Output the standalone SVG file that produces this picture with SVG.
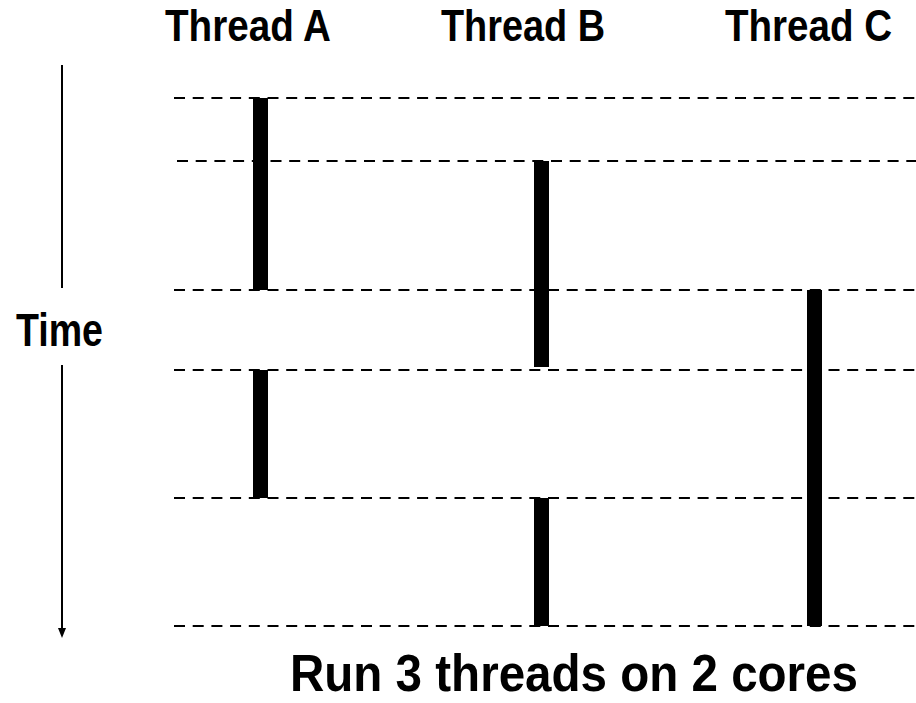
<svg xmlns="http://www.w3.org/2000/svg" width="916" height="703" viewBox="0 0 916 703">
<style>
.lbl{font-family:"Liberation Sans",Arial,sans-serif;font-weight:bold;fill:#000}
.dash{stroke:#000;stroke-width:2;stroke-dasharray:11 7.7;fill:none}
.bar{fill:#000}
.axis{stroke:#000;stroke-width:2;fill:none}
</style>
<rect width="916" height="703" fill="#fff"/>
<g id="labels">
<text class="lbl" x="165" y="41" font-size="44" textLength="166" lengthAdjust="spacingAndGlyphs">Thread A</text>
<text class="lbl" x="441" y="41" font-size="44" textLength="164" lengthAdjust="spacingAndGlyphs">Thread B</text>
<text class="lbl" x="725" y="41" font-size="44" textLength="167" lengthAdjust="spacingAndGlyphs">Thread C</text>
<text class="lbl" x="16" y="346" font-size="46" textLength="87" lengthAdjust="spacingAndGlyphs">Time</text>
<text class="lbl" x="290" y="691" font-size="52" textLength="568" lengthAdjust="spacingAndGlyphs">Run 3 threads on 2 cores</text>
</g>
<g id="time-axis">
<line class="axis" x1="62" y1="65" x2="62" y2="288"/>
<line class="axis" x1="62" y1="365" x2="62" y2="630"/>
<polygon points="58,628 66,628 62,638" fill="#000"/>
</g>
<g id="connectors">
<line class="dash" x1="174" y1="98" x2="916" y2="98"/>
<line class="dash" x1="177" y1="161" x2="916" y2="161"/>
<line class="dash" x1="174" y1="290" x2="916" y2="290"/>
<line class="dash" x1="174" y1="370" x2="916" y2="370"/>
<line class="dash" x1="174" y1="498" x2="916" y2="498"/>
<line class="dash" x1="174" y1="626" x2="916" y2="626"/>
</g>
<g id="thread-a">
<rect class="bar" x="253" y="98" width="15" height="192"/>
<rect class="bar" x="253" y="370" width="15" height="128"/>
</g>
<g id="thread-b">
<rect class="bar" x="534" y="161" width="15" height="206"/>
<rect class="bar" x="534" y="498" width="15" height="128"/>
</g>
<g id="thread-c">
<rect class="bar" x="807" y="290" width="15" height="336"/>
</g>
</svg>
